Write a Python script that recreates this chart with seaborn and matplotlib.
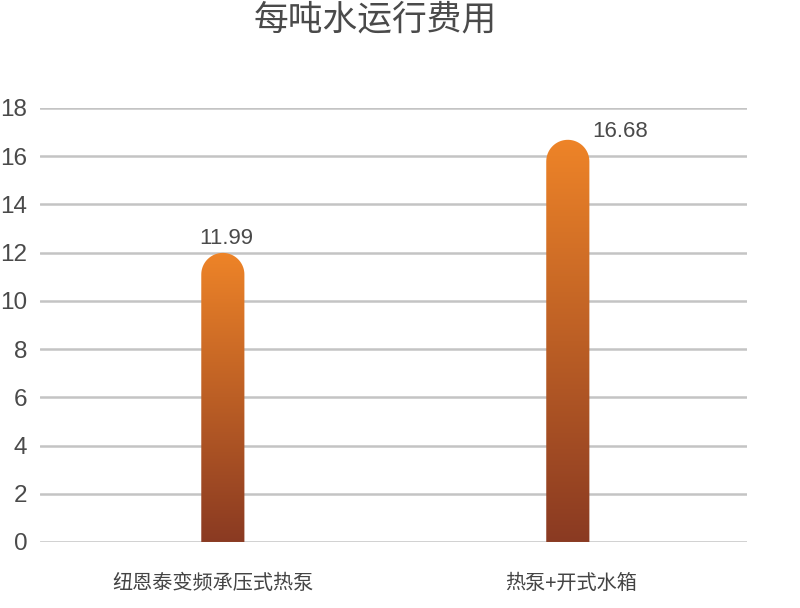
import numpy as np
import pandas as pd
import seaborn as sns
import matplotlib.pyplot as plt
import matplotlib.transforms as mtransforms
from matplotlib.path import Path
from matplotlib.patches import PathPatch
from matplotlib.colors import LinearSegmentedColormap

categories = ['纽恩泰变频承压式热泵', '热泵+开式水箱']
costs = [11.99, 16.68]
value_labels = ['11.99', '16.68']

df = pd.DataFrame({'category': categories, 'cost': costs})

sns.set_theme(style='white')
plt.rcParams['font.family'] = ['Noto Sans CJK SC', 'DejaVu Sans']

fig = plt.figure(figsize=(8, 6.08), dpi=100, facecolor='w')
ax = fig.add_axes([0.05, 0.1086, 0.884, 0.7138])

XLIM = (-0.53, 1.52)
ax.set_ylim(0, 18)
for v in np.arange(0, 19, 2):
    ax.axhline(v, color='#c4c4c4', lw=1.8, zorder=0)

res = sns.barplot(data=df, x='category', y='cost', ax=ax, width=0.125,
                  color='#e07a25', zorder=2)
ax.set_xlim(*XLIM)
ax.set_ylim(0, 18)
ax.set_yticks(np.arange(0, 19, 2))
for s in ax.spines.values():
    s.set_visible(False)

# gradient + rounded top for each bar
cmap = LinearSegmentedColormap.from_list('bar', ['#8a3a22', '#ee8428'])
grad = np.linspace(0, 1, 256).reshape(-1, 1)
fig.canvas.draw()
bbox = ax.get_window_extent()
px_x = bbox.width / (XLIM[1] - XLIM[0])
px_y = bbox.height / 18.0
for p in list(res.patches):
    x0, w, h = p.get_x(), p.get_width(), p.get_height()
    p.set_visible(False)
    rx = w / 2
    ry = rx * px_x / px_y
    cx = x0 + rx
    base = h - ry
    t = np.linspace(0, np.pi, 40)
    arc = np.column_stack([cx + rx * np.cos(t), base + ry * np.sin(t)])
    verts = np.vstack([[x0 + w, 0], [x0 + w, base], arc, [x0, base], [x0, 0], [x0 + w, 0]])
    codes = [Path.MOVETO] + [Path.LINETO] * (len(verts) - 2) + [Path.CLOSEPOLY]
    clip = PathPatch(Path(verts, codes), facecolor='none', edgecolor='none')
    ax.add_patch(clip)
    im = ax.imshow(grad, cmap=cmap, origin='lower', aspect='auto',
                   extent=[x0, x0 + w, 0, h], zorder=2)
    im.set_clip_path(clip)
ax.set_xlim(*XLIM)
ax.set_ylim(0, 18)

# value labels
num_font = ['Liberation Sans', 'DejaVu Sans']
ax.text(0.01, costs[0] + 0.15, value_labels[0], ha='center', va='bottom',
        fontsize=16, color='#4a4a4a', family=num_font)
ax.text(1 + 0.07, costs[1] - 0.1, value_labels[1], ha='left', va='bottom',
        fontsize=16, color='#4a4a4a', family=num_font)

ax.tick_params(axis='y', labelsize=17.5, labelcolor='#4a4a4a', pad=9, length=0)
ax.tick_params(axis='x', labelsize=14.5, labelcolor='#444444', pad=22, length=0)
for lbl in ax.get_yticklabels():
    lbl.set_family(num_font)
shifts = [-10, 3]
for lbl, dx in zip(ax.get_xticklabels(), shifts):
    lbl.set_transform(lbl.get_transform() +
                      mtransforms.ScaledTranslation(dx / 100, 0, fig.dpi_scale_trans))
ax.set_xlabel('')
ax.set_ylabel('')

fig.text(0.469, 0.967, '每吨水运行费用', ha='center', va='center',
         fontsize=25, color='#4a4a4a')

plt.savefig('out.png', dpi=100)
